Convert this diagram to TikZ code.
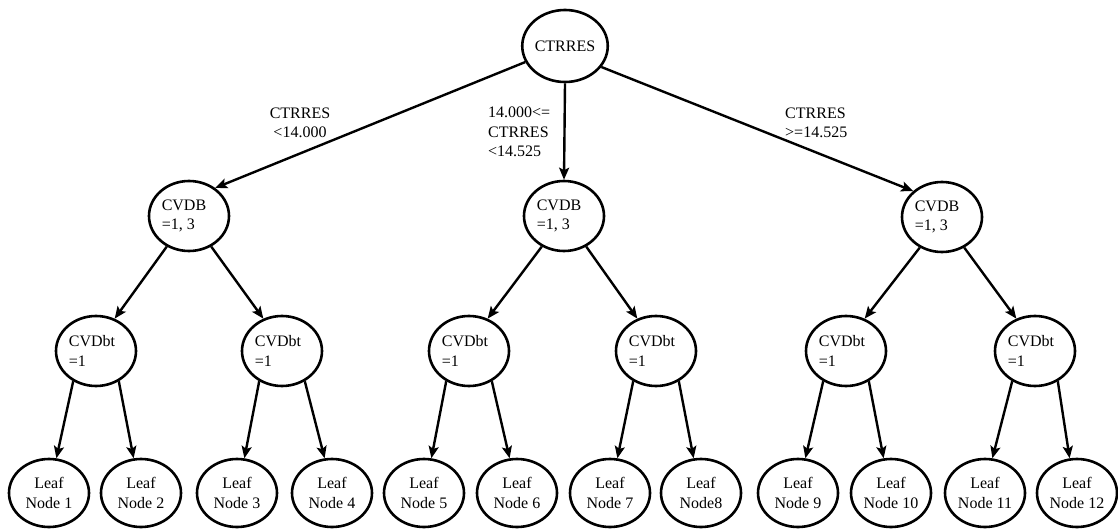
\documentclass[tikz,border=0pt]{standalone}
\usepackage{fontspec}
\setmainfont{Liberation Serif}
\usetikzlibrary{shapes.geometric,arrows.meta}
\tikzset{
  nd/.style={ellipse, draw, line width=2.6pt, inner sep=0pt, minimum width=80pt, minimum height=70pt, align=left, font=\fontsize{16}{19.5}\selectfont},
  rootnd/.style={nd, minimum width=82pt, minimum height=72pt},
  leafnd/.style={nd, align=center, minimum height=68pt},
  conn/.style={line width=2.4pt, -{Stealth[length=12pt,width=10pt,inset=2.5pt]}},
  lbl/.style={inner sep=0pt, font=\fontsize{16}{19.5}\selectfont}
}
\begin{document}
\begin{tikzpicture}[x=1pt,y=-1pt]
\useasboundingbox[fill=white] (0,0) rectangle (1118,529);
% root
\node[rootnd] (root) at (565,46) {CTRRES};
% level 1
\node[nd] (b1) at (189,216) {CVDB\hspace*{10pt}\\=1, 3};
\node[nd] (b2) at (564,216) {CVDB\hspace*{10pt}\\=1, 3};
\node[nd] (b3) at (942,217) {CVDB\hspace*{10pt}\\=1, 3};
% level 2
\node[nd] (t1) at (96,351) {CVDbt\hspace*{8pt}\\=1};
\node[nd] (t2) at (282,351) {CVDbt\hspace*{8pt}\\=1};
\node[nd] (t3) at (469,351) {CVDbt\hspace*{8pt}\\=1};
\node[nd] (t4) at (656,351) {CVDbt\hspace*{8pt}\\=1};
\node[nd] (t5) at (846,351) {CVDbt\hspace*{8pt}\\=1};
\node[nd] (t6) at (1035,351) {CVDbt\hspace*{8pt}\\=1};
% leaves
\node[leafnd] (l1) at (49,493) {Leaf\\Node 1};
\node[leafnd] (l2) at (141,493) {Leaf\\Node 2};
\node[leafnd] (l3) at (237,493) {Leaf\\Node 3};
\node[leafnd] (l4) at (332,493) {Leaf\\Node 4};
\node[leafnd] (l5) at (424,493) {Leaf\\Node 5};
\node[leafnd] (l6) at (517,493) {Leaf\\Node 6};
\node[leafnd] (l7) at (610,493) {Leaf\\Node 7};
\node[leafnd] (l8) at (701,493) {Leaf\\Node8};
\node[leafnd] (l9) at (798,493) {Leaf\\Node 9};
\node[leafnd] (l10) at (891,493) {Leaf\\Node 10};
\node[leafnd] (l11) at (985,493) {Leaf\\Node 11};
\node[leafnd] (l12) at (1077,493) {Leaf\\Node 12};
% root connectors
\draw[conn] (root.202) -- (b1.47);
\draw[conn] (root.south) -- (b2.north);
\draw[conn] (root.330) -- (b3.138);
% level 1 -> level 2
\foreach \p/\a/\b in {b1/t1/t2, b2/t3/t4, b3/t5/t6}{
  \draw[conn] (\p.234) -- (\a.60);
  \draw[conn] (\p.306) -- (\b.120);
}
% level 2 -> leaves
\foreach \p/\a/\b in {t1/l1/l2, t2/l3/l4, t3/l5/l6, t4/l7/l8, t5/l9/l10, t6/l11/l12}{
  \draw[conn] (\p.233) -- (\a.78);
  \draw[conn] (\p.307) -- (\b.102);
}
% edge labels
\node[lbl, align=center] (e1) at (300,123) {CTRRES\\<14.000};
\node[lbl, align=left, anchor=west] (e2) at (488,132) {14.000<=\\CTRRES\\<14.525};
\node[lbl, align=left, anchor=west] (e3) at (785,123) {CTRRES\\>=14.525};
\end{tikzpicture}
\end{document}
